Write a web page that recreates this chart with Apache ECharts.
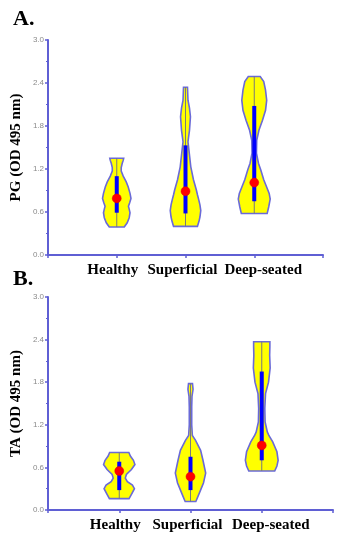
<!DOCTYPE html>
<html><head><meta charset="utf-8">
<script src="https://cdn.jsdelivr.net/npm/echarts@6/dist/echarts.min.js"></script>
<style>html,body{margin:0;padding:0;background:#fff}#c{width:345px;height:540px}</style>
</head><body><div id="c"></div>
<script>
const categories = ['Healthy', 'Superficial', 'Deep-seated'];
const catPositions = [1, 2, 3];
const yTickLabels = ['0.0', '0.6', '1.2', '1.8', '2.4', '3.0'];
const panelLabels = ['A.', 'B.'];
const yTitles = ['PG (OD 495 nm)', 'TA (OD 495 nm)'];

// Violin outlines: [value, half-width in category units], bottom to top
const pgHealthy = [[0.39,0.109],[0.45,0.152],[0.52,0.181],[0.59,0.193],[0.64,0.181],[0.68,0.170],[0.73,0.188],[0.79,0.207],[0.86,0.193],[0.95,0.167],[1.02,0.138],[1.10,0.094],[1.17,0.065],[1.22,0.065],[1.28,0.080],[1.32,0.094],[1.35,0.101]];
const pgSuperficial = [[0.40,0.174],[0.47,0.196],[0.53,0.210],[0.62,0.222],[0.70,0.210],[0.77,0.193],[0.84,0.174],[0.91,0.157],[1.05,0.116],[1.23,0.077],[1.42,0.055],[1.58,0.036],[1.74,0.058],[1.93,0.072],[2.05,0.058],[2.16,0.036],[2.34,0.029]];
const pgDeep = [[0.58,0.188],[0.67,0.210],[0.78,0.232],[0.86,0.217],[0.91,0.196],[1.05,0.138],[1.12,0.116],[1.19,0.094],[1.28,0.061],[1.42,0.032],[1.60,0.036],[1.74,0.068],[1.88,0.120],[2.02,0.164],[2.16,0.181],[2.30,0.164],[2.42,0.138],[2.49,0.087]];
const taHealthy = [[0.16,0.138],[0.22,0.171],[0.30,0.213],[0.35,0.185],[0.40,0.114],[0.45,0.085],[0.50,0.100],[0.57,0.171],[0.64,0.220],[0.70,0.199],[0.76,0.156],[0.81,0.135]];
const taSuperficial = [[0.12,0.075],[0.23,0.121],[0.38,0.182],[0.52,0.213],[0.70,0.175],[0.84,0.142],[0.98,0.071],[1.05,0.026],[1.20,0.017],[1.45,0.017],[1.60,0.021],[1.70,0.036],[1.78,0.028]];
const taDeep = [[0.55,0.182],[0.62,0.213],[0.70,0.230],[0.82,0.213],[0.96,0.154],[1.05,0.100],[1.10,0.078],[1.24,0.047],[1.43,0.043],[1.64,0.053],[1.80,0.095],[2.00,0.118],[2.18,0.111],[2.30,0.114],[2.37,0.114]];

const pgMedian = [0.79, 0.89, 1.01];
const pgQ1 = [0.59, 0.58, 0.75];
const pgQ3 = [1.10, 1.53, 2.08];
const taMedian = [0.55, 0.47, 0.91];
const taQ1 = [0.28, 0.28, 0.70];
const taQ3 = [0.68, 0.75, 1.95];

const AXIS_COLOR = '#5f5fd4';

function makeRender(profiles, q1, q3, med) {
  return function (params, api) {
    const i = params.dataIndex;
    const x = api.value(0);
    const prof = profiles[i];
    const right = prof.map(p => api.coord([x + p[1], p[0]]));
    const left = prof.slice().reverse().map(p => api.coord([x - p[1], p[0]]));
    const pts = right.concat(left);
    const top = api.coord([x, prof[prof.length - 1][0]]);
    const bot = api.coord([x, prof[0][0]]);
    const a = api.coord([x, q1[i]]);
    const b = api.coord([x, q3[i]]);
    const m = api.coord([x, med[i]]);
    return {
      type: 'group',
      children: [
        { type: 'polygon', shape: { points: pts }, style: { fill: '#ffff00', stroke: '#6a6ad8', lineWidth: 1.6 } },
        { type: 'line', shape: { x1: bot[0], y1: bot[1], x2: top[0], y2: top[1] }, style: { stroke: '#7a7a7a', lineWidth: 1 } },
        { type: 'line', shape: { x1: a[0], y1: a[1], x2: b[0], y2: b[1] }, style: { stroke: '#0000ff', lineWidth: 4 } },
        { type: 'circle', shape: { cx: m[0], cy: m[1], r: 4.5 }, style: { fill: '#ff0000', stroke: '#e00000', lineWidth: 0.5 } }
      ]
    };
  };
}

const labelFont = { fontFamily: 'Liberation Serif', fontWeight: 'bold', fontSize: 15, color: '#000' };

function xAxisDef(gi) {
  return {
    type: 'value', gridIndex: gi, min: 0, max: 4, interval: 1,
    axisLine: { show: true, lineStyle: { color: AXIS_COLOR, width: 2 } },
    axisTick: { show: true, length: 3, lineStyle: { color: AXIS_COLOR, width: 1.5 } },
    splitLine: { show: false },
    axisLabel: Object.assign({
      margin: 8,
      showMinLabel: true, showMaxLabel: true,
      formatter: v => { const k = catPositions.indexOf(v); return k >= 0 ? '{c' + k + '|' + categories[k] + '}' : ''; },
      rich: {
        c0: Object.assign({ padding: [0, 8, 0, 0] }, labelFont),
        c1: Object.assign({ padding: [0, 6, 0, 0] }, labelFont),
        c2: Object.assign({ padding: [0, 0, 0, 18] }, labelFont)
      }
    }, labelFont)
  };
}

function yAxisDef(gi) {
  return {
    type: 'value', gridIndex: gi, min: 0, max: 3, interval: 0.6,
    name: yTitles[gi], nameLocation: 'middle', nameGap: 24, nameMoveOverlap: false,
    nameTextStyle: { fontFamily: 'Liberation Serif', fontWeight: 'bold', fontSize: 15, color: '#000' },
    axisLine: { show: true, lineStyle: { color: AXIS_COLOR, width: 2 } },
    axisTick: { show: true, length: 3, lineStyle: { color: AXIS_COLOR, width: 1.5 } },
    minorTick: { show: true, splitNumber: 2, length: 2, lineStyle: { color: AXIS_COLOR, width: 1 } },
    splitLine: { show: false },
    axisLabel: {
      margin: 4, fontFamily: 'Liberation Sans', fontSize: 8, color: '#8a8a8a',
      formatter: v => yTickLabels[Math.round(v / 0.6)]
    }
  };
}

const chart = echarts.init(document.getElementById('c'), null, { renderer: 'canvas' });
chart.setOption({
  animation: false,
  backgroundColor: '#ffffff',
  title: [
    { text: panelLabels[0], left: 8, top: 3, textStyle: { fontFamily: 'Liberation Serif', fontWeight: 'bold', fontSize: 22, color: '#000' } },
    { text: panelLabels[1], left: 8, top: 263, textStyle: { fontFamily: 'Liberation Serif', fontWeight: 'bold', fontSize: 22, color: '#000' } }
  ],
  grid: [
    { left: 48, top: 40, width: 275, height: 215, outerBoundsMode: 'none' },
    { left: 48, top: 297, width: 285, height: 213, outerBoundsMode: 'none' }
  ],
  xAxis: [xAxisDef(0), xAxisDef(1)],
  yAxis: [yAxisDef(0), yAxisDef(1)],
  series: [
    {
      type: 'custom', xAxisIndex: 0, yAxisIndex: 0, clip: false,
      renderItem: makeRender([pgHealthy, pgSuperficial, pgDeep], pgQ1, pgQ3, pgMedian),
      encode: { x: 0, y: 1 },
      data: catPositions.map((x, i) => [x, pgMedian[i]])
    },
    {
      type: 'custom', xAxisIndex: 1, yAxisIndex: 1, clip: false,
      renderItem: makeRender([taHealthy, taSuperficial, taDeep], taQ1, taQ3, taMedian),
      encode: { x: 0, y: 1 },
      data: catPositions.map((x, i) => [x, taMedian[i]])
    }
  ]
});
</script>
</body></html>
